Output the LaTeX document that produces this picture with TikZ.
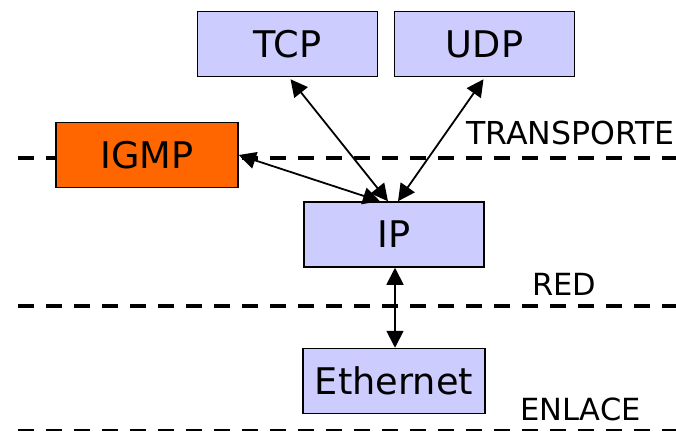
\documentclass[tikz,border=0pt]{standalone}
\usepackage{fontspec}
\setmainfont{DejaVu Sans}
\usepackage{tikz}
\usetikzlibrary{calc}
\usetikzlibrary{arrows.meta}
\tikzset{>=stealth}

\begin{document}
\begin{tikzpicture}[x=1pt,y=-1pt,
      proto/.style={draw,
      line width=1.5pt,
      rectangle,
      inner sep=0pt,
      minimum width=180pt,
      minimum height=65pt,
      font=\fontsize{36.7}{40}\selectfont,
      fill=blue!20},
      layer/.style={anchor=base west,
      inner sep=0pt,
      font=\fontsize{30.5}{33}\selectfont},
      sep/.style={line width=4pt,
      dash pattern=on 16pt off 12pt},
      link/.style={draw,
      line width=1.8pt,
      {Triangle[length=17pt,width=17pt]}-{Triangle[length=17pt,width=17pt]}}]
    \useasboundingbox (0,0) rectangle (676,431);
    %% Layer separators
    \path [draw, sep] (18,158) -- (676,158);
    \path [draw, sep] (18,305.5) -- (676,305.5);
    \path [draw, sep, line width=1.5pt] (18,430) -- (676,430);
    %% Transport
    \node [proto] at (287.5,44) (TCP) {TCP};
    \node [proto] at (484.5,44) (UDP) {UDP};
    \node [proto, fill={rgb,255:red,255;green,102;blue,0}, minimum width=182pt] at (147,155) (IGMP) {IGMP};
    %% Network
    \node [proto] at (394,234.5) (IP) {IP};
    %% Link
    \node [proto, minimum width=182pt] at (394,381) (Ethernet) {Ethernet};
    %% Layer names
    \node [layer] at (466,144) (TRANSPORTE) {\fontsize{31.6}{33}\selectfont TRANSPORTE};
    \node [layer] at (532,295) (RED) {RED};
    \node [layer] at (520,420) (ENLACE) {ENLACE};
    %%
    %% Links
    \path [link] ($(TCP.south)+(3,2)$) to ($(IP.north)+(-6,0)$);
    \path [link] ($(UDP.south)+(-1,2)$) to ($(IP.north)+(4,0)$);
    \path [link] (IGMP.east) to ($(IP.north)+(-14,0)$);
    \path [link] ($(IP.south)+(1,0)$) to ($(Ethernet.north)+(1,0)$);
  \end{tikzpicture}
\end{document}
